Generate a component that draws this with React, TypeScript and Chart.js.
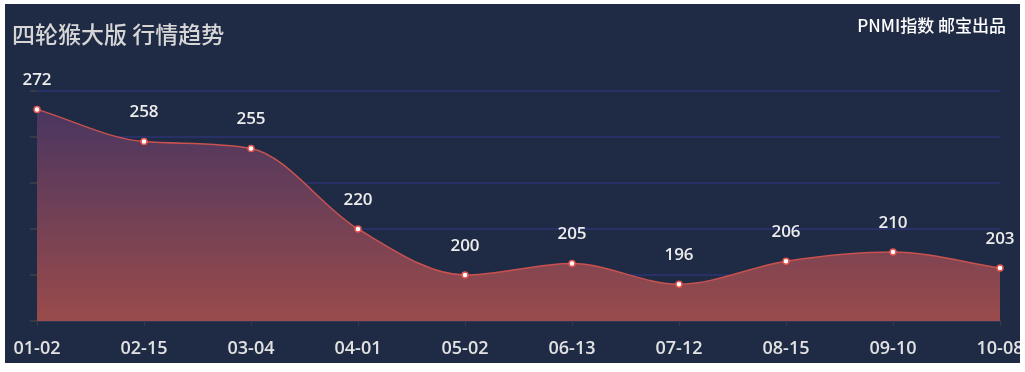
import React, { useEffect, useRef } from "react";
import { Chart, registerables } from "chart.js";

Chart.register(...registerables);

const categories = ["01-02", "02-15", "03-04", "04-01", "05-02", "06-13", "07-12", "08-15", "09-10", "10-08"];
const prices = [272, 258, 255, 220, 200, 205, 196, 206, 210, 203];
const yTicks = { min: 180, max: 280, step: 20 };
const titleText = "四轮猴大版 行情趋势";
const brandText = "PNMI指数 邮宝出品";

const FONT = "'Noto Sans CJK SC', 'Noto Sans', sans-serif";
const NUMFONT = "'Open Sans', 'Noto Sans', sans-serif";

const valueLabels = {
  id: "valueLabels",
  afterDatasetsDraw(chart: any) {
    const ctx = chart.ctx;
    const meta = chart.getDatasetMeta(0);
    ctx.save();
    ctx.font = `600 17px ${NUMFONT}`;
    ctx.fillStyle = "#ececec";
    ctx.textAlign = "center";
    ctx.textBaseline = "middle";
    meta.data.forEach((pt: any, i: number) => {
      ctx.fillText(String(prices[i]), pt.x, pt.y - 29);
    });
    ctx.restore();
  },
};

export default function App() {
  const ref = useRef<HTMLCanvasElement>(null);
  useEffect(() => {
    if (!ref.current) return;
    const chart = new Chart(ref.current, {
      type: "line",
      data: {
        labels: categories,
        datasets: [
          {
            data: prices,
            borderColor: "#c9524f",
            borderWidth: 1.5,
            cubicInterpolationMode: "monotone",
            fill: "start",
            backgroundColor: (c: any) => {
              const area = c.chart.chartArea;
              if (!area) return "#6a3f55";
              const g = c.chart.ctx.createLinearGradient(0, area.top + 20, 0, area.bottom);
              g.addColorStop(0, "#4a3660");
              g.addColorStop(1, "#9a4b4b");
              return g;
            },
            pointRadius: 3,
            pointBackgroundColor: "#ffffff",
            pointBorderColor: "#e2554f",
            pointBorderWidth: 1.5,
          },
        ],
      },
      options: {
        animation: false,
        responsive: true,
        maintainAspectRatio: false,
        layout: { padding: { top: 87, right: 20, left: 25, bottom: 0 } },
        plugins: { legend: { display: false }, tooltip: { enabled: false } },
        scales: {
          x: {
            offset: false,
            grid: { drawOnChartArea: false, drawTicks: true, tickLength: 5, tickColor: "#3a3a44" },
            border: { display: true, color: "#3a3a44", width: 1.5 },
            ticks: { color: "#e2e2e2", font: { size: 18, family: NUMFONT, weight: "600" }, padding: 12, maxRotation: 0, autoSkip: false },
            afterFit: (s: any) => {
              s.paddingLeft = 0;
              s.paddingRight = 0;
              s.height = 42;
            },
          },
          y: {
            min: yTicks.min,
            max: yTicks.max,
            ticks: { stepSize: yTicks.step, display: false },
            grid: { color: "#283068", lineWidth: 2, drawTicks: true, tickLength: 7, tickColor: "#3a3a44" },
            border: { display: false },
          },
        },
      },
      plugins: [valueLabels],
    });
    return () => chart.destroy();
  }, []);

  return (
    <div style={{ position: "absolute", left: 5, top: 4, width: 1015, height: 359, background: "#1f2a44", overflow: "hidden" }}>
      <canvas ref={ref} />
      <div style={{ position: "absolute", left: 7, top: 18, fontFamily: FONT, fontSize: 23, fontWeight: 500, lineHeight: "23px", color: "#d6d6d6", whiteSpace: "nowrap" }}>
        {titleText}
      </div>
      <div style={{ position: "absolute", right: 14, top: 12, fontFamily: FONT, fontSize: 17, fontWeight: 500, lineHeight: "17px", color: "#ffffff", whiteSpace: "nowrap" }}>
        {brandText}
      </div>
    </div>
  );
}
